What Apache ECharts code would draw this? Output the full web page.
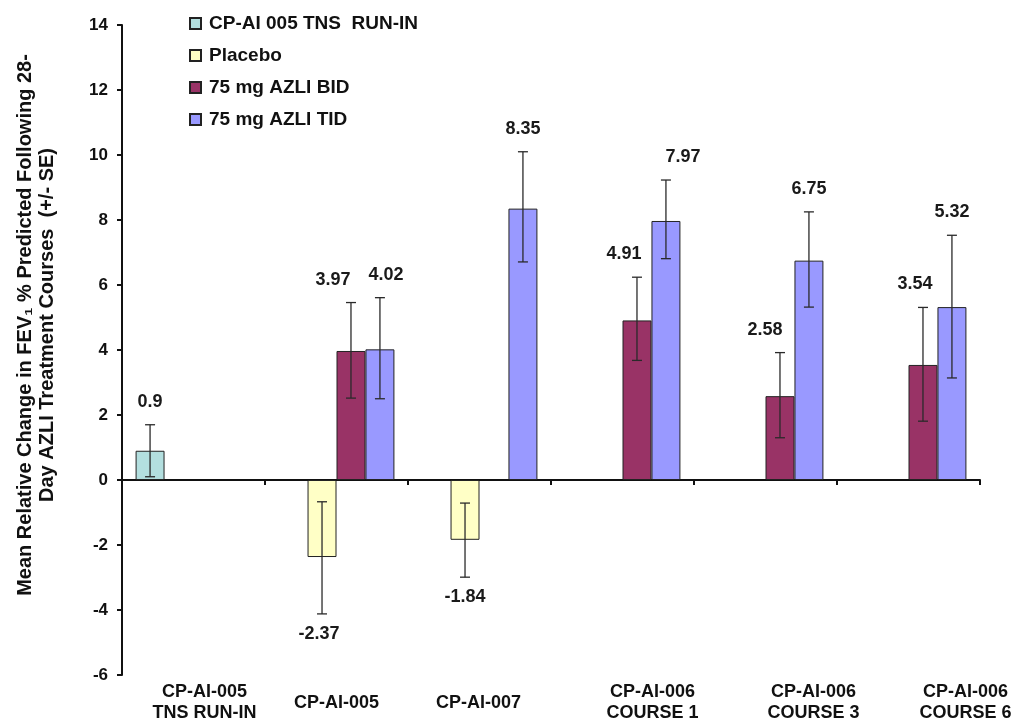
<!DOCTYPE html>
<html>
<head>
<meta charset="utf-8">
<script src="https://cdn.jsdelivr.net/npm/echarts@6/dist/echarts.min.js"></script>
<style>
html,body{margin:0;padding:0;background:#fff;}
#chart{width:1019px;height:724px;}
</style>
</head>
<body>
<div id="chart"></div>
<script>
const categories = ['CP-AI-005\nTNS RUN-IN', 'CP-AI-005', 'CP-AI-007', 'CP-AI-006\nCOURSE 1', 'CP-AI-006\nCOURSE 3', 'CP-AI-006\nCOURSE 6'];
const seriesNames = ['CP-AI 005 TNS  RUN-IN', 'Placebo', '75 mg AZLI BID', '75 mg AZLI TID'];
const runIn = [0.9, null, null, null, null, null];
const placebo = [null, -2.37, -1.84, null, null, null];
const bid = [null, 3.97, null, 4.91, 2.58, 3.54];
const tid = [null, 4.02, 8.35, 7.97, 6.75, 5.32];
const runInLow = [0.1, null, null, null, null, null];
const runInHigh = [1.7, null, null, null, null, null];
const placeboLow = [null, -4.12, -2.99, null, null, null];
const placeboHigh = [null, -0.67, -0.71, null, null, null];
const bidLow = [null, 2.52, null, 3.68, 1.30, 1.81];
const bidHigh = [null, 5.46, null, 6.24, 3.92, 5.31];
const tidLow = [null, 2.50, 6.71, 6.81, 5.32, 3.14];
const tidHigh = [null, 5.61, 10.10, 9.23, 8.25, 7.53];
const yTicks = [-6, -4, -2, 0, 2, 4, 6, 8, 10, 12, 14];

// label layout (style only, pixel nudges for text)
const labelShift = [11, 0, -1, 30, 48, 57];
const valueLabelDx = [
  [0, 0, 0, 0, 0, 0],
  [0, -3, 0, 0, 0, 0],
  [0, -18, 0, -13, -15, -8],
  [0, 6, 0, 17, 0, 0]
];
const colors = ['#b3dfdf', '#ffffc6', '#993366', '#9999ff'];
const FONT = '"Liberation Sans", Arial, sans-serif';

const values = [runIn, placebo, bid, tid];
const lows = [runInLow, placeboLow, bidLow, tidLow];
const highs = [runInHigh, placeboHigh, bidHigh, tidHigh];
const CAT_GAP = 0.19;

const barSeries = seriesNames.map((name, k) => ({
  name: name,
  type: 'bar',
  xAxisIndex: 0,
  yAxisIndex: 0,
  data: values[k],
  barGap: '0%',
  barCategoryGap: (CAT_GAP * 100) + '%',
  itemStyle: { color: colors[k], borderColor: '#222', borderWidth: 1 },
  z: 2
}));

const errSeries = seriesNames.map((name, k) => ({
  name: name + ' SE',
  type: 'custom',
  xAxisIndex: 0,
  yAxisIndex: 0,
  z: 5,
  silent: true,
  data: values[k].map((v, i) => v == null ? null : [i, v, lows[k][i], highs[k][i]]).filter(d => d),
  renderItem: function (params, api) {
    const i = api.value(0), v = api.value(1), lo = api.value(2), hi = api.value(3);
    const band = api.size([1, 0])[0];
    const bw = band * (1 - CAT_GAP) / 4;
    const x = api.coord([i, 0])[0] + (k - 1.5) * bw;
    const yLo = api.coord([i, lo])[1];
    const yHi = api.coord([i, hi])[1];
    const cap = 5;
    const ls = { stroke: '#2a2a2a', lineWidth: 1.3 };
    const ty = v >= 0 ? yHi - 23 : yLo + 20;
    const tx = x + valueLabelDx[k][i];
    return {
      type: 'group',
      children: [
        { type: 'line', shape: { x1: x, y1: yLo, x2: x, y2: yHi }, style: ls },
        { type: 'line', shape: { x1: x - cap, y1: yLo, x2: x + cap, y2: yLo }, style: ls },
        { type: 'line', shape: { x1: x - cap, y1: yHi, x2: x + cap, y2: yHi }, style: ls },
        { type: 'text', x: tx, y: ty, style: { text: String(v), fill: '#1a1a1a', font: 'bold 18px ' + FONT, align: 'center', verticalAlign: 'middle', textAlign: 'center', textVerticalAlign: 'middle' } }
      ]
    };
  }
}));

const option = {
  animation: false,
  backgroundColor: '#fff',
  grid: { left: 122, right: 39, top: 25, bottom: 49, outerBoundsMode: 'none', containLabel: false },
  legend: {
    data: seriesNames,
    orient: 'vertical',
    left: 184,
    top: 9,
    itemWidth: 11,
    itemHeight: 11,
    itemGap: 13,
    icon: 'rect',
    textStyle: { fontFamily: FONT, fontWeight: 'bold', fontSize: 19, color: '#111', padding: [0, 0, 0, 3] }
  },
  xAxis: [
    {
      type: 'category',
      data: categories,
      position: 'bottom',
      axisLine: { onZero: true, lineStyle: { color: '#111', width: 2 } },
      axisTick: { show: true, length: 5, lineStyle: { color: '#111', width: 2 } },
      axisLabel: { show: false }
    },
    {
      type: 'category',
      data: categories.map((c, i) => ({
        value: c,
        textStyle: {
          verticalAlign: 'middle',
          align: 'center',
          padding: labelShift[i] >= 0 ? [0, 0, 0, 2 * labelShift[i]] : [0, -2 * labelShift[i], 0, 0]
        }
      })),
      position: 'bottom',
      axisLine: { show: false, onZero: false },
      axisTick: { show: false },
      axisLabel: { interval: 0, fontFamily: FONT, fontWeight: 'bold', fontSize: 18, color: '#111', lineHeight: 21, verticalAlign: 'middle', margin: 28 }
    }
  ],
  yAxis: {
    type: 'value',
    min: -6,
    max: 14,
    interval: 2,
    name: 'Mean Relative Change in FEV\u2081 % Predicted Following 28-\nDay AZLI Treatment Courses  (+/- SE)',
    nameLocation: 'middle',
    nameRotate: 90,
    nameGap: 64,
    nameTextStyle: { fontFamily: FONT, fontWeight: 'bold', fontSize: 20, color: '#111', lineHeight: 22, padding: [0, 0, 0, 50] },
    axisLine: { show: true, lineStyle: { color: '#111', width: 2 } },
    axisTick: { show: true, length: 5, lineStyle: { color: '#111', width: 2 } },
    splitLine: { show: false },
    axisLabel: {
      fontFamily: FONT, fontWeight: 'bold', fontSize: 17, color: '#111', margin: 14,
      formatter: v => yTicks.includes(v) ? String(v) : ''
    }
  },
  series: barSeries.concat(errSeries)
};

const chart = echarts.init(document.getElementById('chart'), null, { renderer: 'canvas' });
chart.setOption(option);
</script>
</body>
</html>
